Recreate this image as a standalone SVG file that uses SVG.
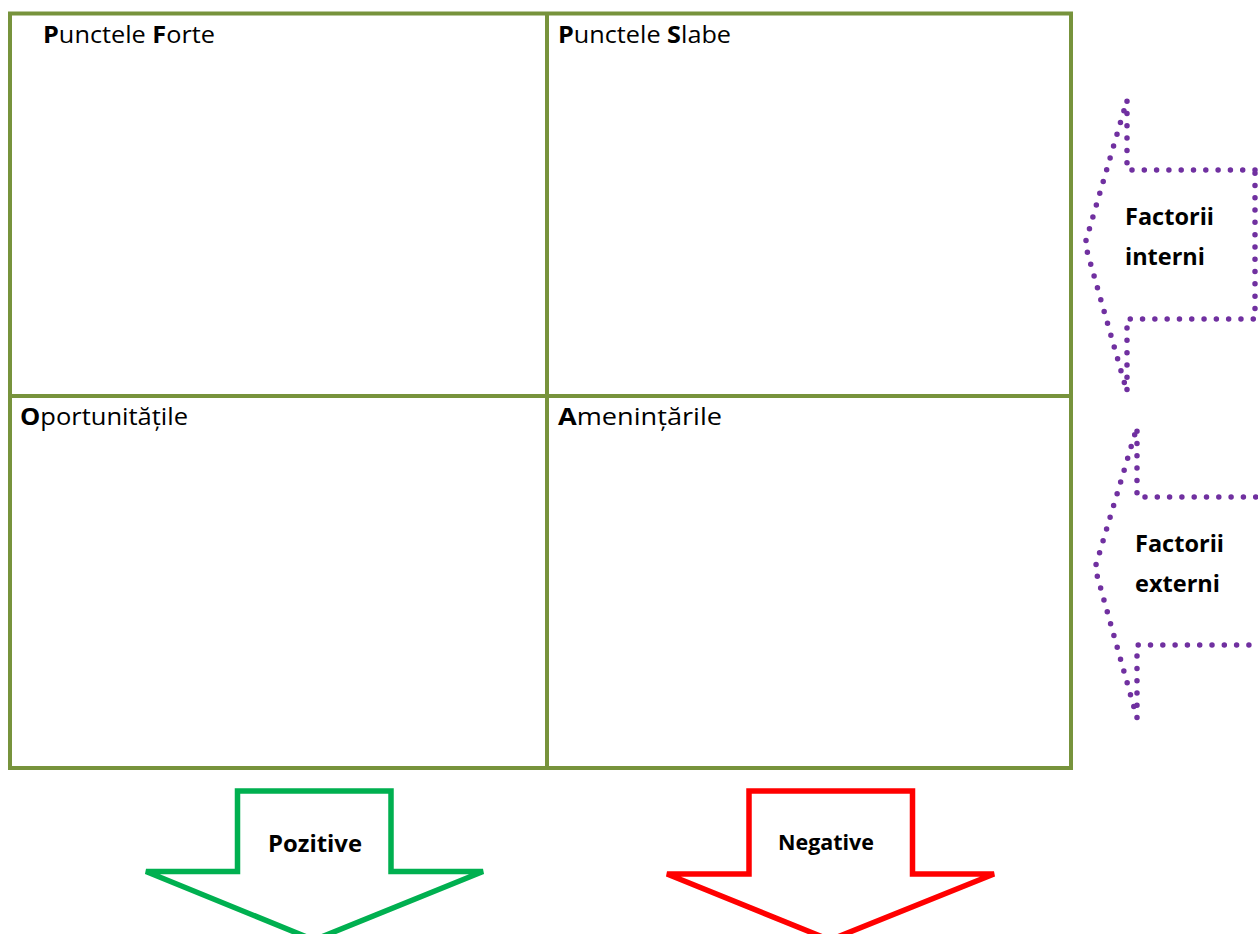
<svg xmlns="http://www.w3.org/2000/svg" width="1258" height="934" viewBox="0 0 1258 934">
<style>
.grid{fill:none;stroke:#77933C;stroke-width:4}
.lbl{font-family:"Open Sans","Liberation Sans",sans-serif;font-size:23px;fill:#000}
.b{font-weight:bold}
.dot{fill:#fff;stroke:#7030A0;stroke-width:5.5;stroke-dasharray:0 12.3;stroke-linecap:round;stroke-linejoin:round}
.txt{font-family:"Open Sans","Liberation Sans",sans-serif;font-weight:bold;fill:#000}
</style>
<rect width="1258" height="934" fill="#fff"/>
<g id="grid">
<rect class="grid" x="10" y="13.5" width="1061" height="754.5"/>
<line class="grid" x1="547" y1="13.5" x2="547" y2="768"/>
<line class="grid" x1="10" y1="396" x2="1071" y2="396"/>
</g>
<g id="strengths"><text class="lbl" x="43" y="43" textLength="172" lengthAdjust="spacingAndGlyphs"><tspan class="b">P</tspan>unctele <tspan class="b">F</tspan>orte</text></g>
<g id="weaknesses"><text class="lbl" x="558" y="43" textLength="173" lengthAdjust="spacingAndGlyphs"><tspan class="b">P</tspan>unctele <tspan class="b">S</tspan>labe</text></g>
<g id="opportunities"><text class="lbl" x="20" y="425" textLength="168" lengthAdjust="spacingAndGlyphs"><tspan class="b">O</tspan>portunitățile</text></g>
<g id="threats"><text class="lbl" x="558" y="425" textLength="164" lengthAdjust="spacingAndGlyphs"><tspan class="b">A</tspan>menințările</text></g>
<g id="connectors">
<g id="factorii-interni">
<polygon class="dot" points="1255,170 1127,170 1127,100 1085,244 1127,392 1127,319 1255,319"/>
<text class="txt" font-size="23" x="1125" y="225" textLength="89" lengthAdjust="spacingAndGlyphs">Factorii</text>
<text class="txt" font-size="23" x="1125" y="265" textLength="80" lengthAdjust="spacingAndGlyphs">interni</text>
</g>
<g id="factorii-externi">
<polygon class="dot" points="1268,497 1137,497 1137,427 1095,568 1137,718 1137,645 1268,645"/>
<text class="txt" font-size="23" x="1135" y="552" textLength="89" lengthAdjust="spacingAndGlyphs">Factorii</text>
<text class="txt" font-size="23" x="1135" y="592" textLength="85" lengthAdjust="spacingAndGlyphs">externi</text>
</g>
<g id="pozitive">
<polygon points="237.5,791 391,791 391,871.5 483,871.5 314,940 146,871.5 237.5,871.5" fill="#fff" stroke="#00B050" stroke-width="5.5"/>
<text class="txt" font-size="23" x="268" y="852" textLength="94" lengthAdjust="spacingAndGlyphs">Pozitive</text>
</g>
<g id="negative">
<polygon points="749,791 912.5,791 912.5,874 994,874 830,940 667,874 749,874" fill="#fff" stroke="#FF0000" stroke-width="5.5"/>
<text class="txt" font-size="21" x="778" y="850" textLength="96" lengthAdjust="spacingAndGlyphs">Negative</text>
</g>
</g>
</svg>
